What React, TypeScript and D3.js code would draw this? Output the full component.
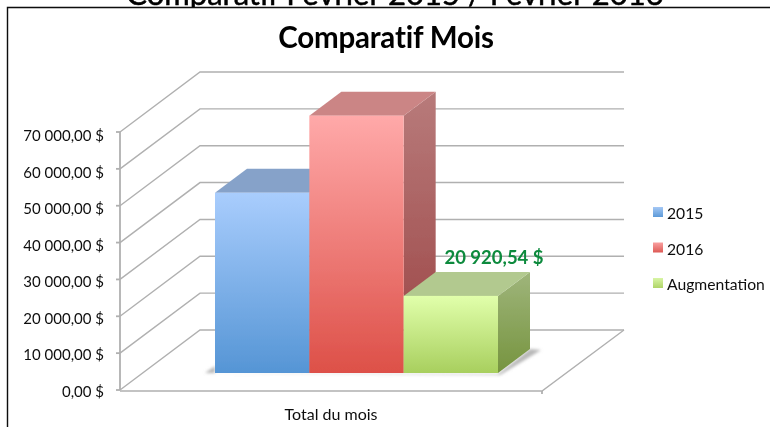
import React from "react";
import * as d3 from "d3";

const categoryLabel = "Total du mois";
const seriesNames = ["2015", "2016", "Augmentation"];
const seriesValues = [48900, 69820, 20920.54];
const tickValues = [0, 10000, 20000, 30000, 40000, 50000, 60000, 70000];
const tickLabels = ["0,00 $", "10 000,00 $", "20 000,00 $", "30 000,00 $", "40 000,00 $", "50 000,00 $", "60 000,00 $", "70 000,00 $"];
const dataLabel = "20 920,54 $";
const pageTitle = "Comparatif Février 2015 / Février 2016";
const chartTitle = "Comparatif Mois";

const palettes = [
  { id: "b", fTop: "#a9cdfd", fBot: "#5595d5", top: "#86a2c9", sTop: "#7f9bc0", sBot: "#4d7fb5", sw: ["#a5c8f5", "#5c9ad8"] },
  { id: "r", fTop: "#ffa9a9", fBot: "#dd5048", top: "#cb8585", sTop: "#b87b7b", sBot: "#9a4242", sw: ["#f9a0a0", "#dd5a55"] },
  { id: "g", fTop: "#e1ffab", fBot: "#a8cf5e", top: "#b2c98f", sTop: "#9fb57b", sBot: "#76943f", sw: ["#d8f5a5", "#afd468"] },
];

const y = d3.scaleLinear().domain([0, 70000]).range([390, 132]);
const labelY = d3.scaleLinear().domain([0, 70000]).range([397, 141]);
const DX = 80, DY = -60; // wall depth
const barBase = 373;
const barY = d3.scaleLinear().domain([0, 70000]).range([barBase, barBase - 258]);
const band = d3.scaleBand<string>().domain(seriesNames).range([215, 498]).padding(0);
const BDX = 32, BDY = -24; // bar depth
const gridRight = 624;
const floorFrontRight = 542;
const FONT = "Lato, Carlito, sans-serif";
const pts = (a: number[][]) => a.map((p) => p.join(",")).join(" ");

export default function App() {
  return (
    <svg width={770} height={427} style={{ position: "absolute", left: 0, top: 0, background: "#fff" }} fontFamily={FONT}>
      <defs>
        {palettes.map((p) => (
          <React.Fragment key={p.id}>
            <linearGradient id={p.id + "f"} x1="0" y1="0" x2="0" y2="1">
              <stop offset="0" stopColor={p.fTop} /><stop offset="1" stopColor={p.fBot} />
            </linearGradient>
            <linearGradient id={p.id + "s"} x1="0" y1="0" x2="0" y2="1">
              <stop offset="0" stopColor={p.sTop} /><stop offset="1" stopColor={p.sBot} />
            </linearGradient>
            <linearGradient id={p.id + "l"} x1="0" y1="0" x2="0" y2="1">
              <stop offset="0" stopColor={p.sw[0]} /><stop offset="1" stopColor={p.sw[1]} />
            </linearGradient>
          </React.Fragment>
        ))}
        <filter id="soft" x="-5%" y="-5%" width="110%" height="110%"><feGaussianBlur stdDeviation="0.5" /></filter>
        <filter id="shadow" x="-20%" y="-20%" width="140%" height="140%"><feGaussianBlur stdDeviation="1.5" /></filter>
        <clipPath id="topClip"><rect x={0} y={0} width={770} height={7} /></clipPath>
      </defs>

      <g filter="url(#soft)">
        <text x={395} y={5} textAnchor="middle" fontSize={31} fontWeight={400} fill="#000" stroke="#000" strokeWidth={0.5} clipPath="url(#topClip)">{pageTitle}</text>
        <path d="M7.5,427V7.5H770" fill="none" stroke="#111" strokeWidth={1.4} />
        <text x={386} y={48} textAnchor="middle" fontSize={29.5} fontWeight={700} fill="#000" letterSpacing={-0.2}>{chartTitle}</text>

        {/* walls and floor */}
        {tickValues.map((t, i) => {
          const yy = y(t);
          return (
            <g key={t} fill="none" stroke="#b0b0b0" strokeWidth={1.4}>
              <polyline points={pts([[120, yy], [120 + DX, yy + DY], [gridRight, yy + DY]])} />
              <line x1={116} x2={120} y1={yy} y2={yy} strokeWidth={1.8} />
              <text x={104} y={labelY(t)} textAnchor="end" fontSize={15} fill="#111" stroke="none">{tickLabels[i]}</text>
            </g>
          );
        })}
        <line x1={120} x2={120} y1={y(70000)} y2={y(0)} stroke="#b0b0b0" strokeWidth={1.8} />
        <polyline points={pts([[120, y(0) + 1], [floorFrontRight, y(0) + 1], [gridRight, y(0) + DY]])} fill="none" stroke="#b0b0b0" strokeWidth={1.4} />
        <line x1={floorFrontRight} x2={floorFrontRight} y1={y(0) + 1} y2={y(0) + 4} stroke="#b0b0b0" strokeWidth={1.8} />
        <text x={331} y={420} textAnchor="middle" fontSize={16} fill="#111">{categoryLabel}</text>

        {/* floor shadow */}
        <polygon filter="url(#shadow)" fill="#b8b8b8"
          points={pts([[205, barBase], [215, barBase - 7], [215, barBase], [498, barBase + 1], [498 + BDX, barBase + BDY], [541, barBase + BDY + 1], [500, barBase + 2]])} />

        {/* bars, back to front */}
        {seriesNames.map((s, i) => {
          const x0 = band(s)!;
          const x1 = x0 + band.bandwidth();
          const yt = barY(seriesValues[i]);
          const p = palettes[i];
          return (
            <g key={s}>
              <polygon fill={`url(#${p.id}s)`} points={pts([[x1, yt], [x1 + BDX, yt + BDY], [x1 + BDX, barBase + BDY], [x1, barBase]])} />
              <polygon fill={p.top} points={pts([[x0, yt], [x0 + BDX, yt + BDY], [x1 + BDX, yt + BDY], [x1, yt]])} />
              <rect x={x0} y={yt} width={x1 - x0} height={barBase - yt} fill={`url(#${p.id}f)`} />
            </g>
          );
        })}

        <text x={494} y={264} textAnchor="middle" fontSize={18.5} fontWeight={700} fill="#0b8a3c">{dataLabel}</text>

        {/* legend */}
        {seriesNames.map((s, i) => {
          const ly = 213 + i * 35.5;
          return (
            <g key={s}>
              <rect x={653} y={ly - 6} width={10} height={10} fill={`url(#${palettes[i].id}l)`} />
              <text x={667} y={ly + 6} fontSize={15.7} fill="#111">{s}</text>
            </g>
          );
        })}
      </g>
    </svg>
  );
}
